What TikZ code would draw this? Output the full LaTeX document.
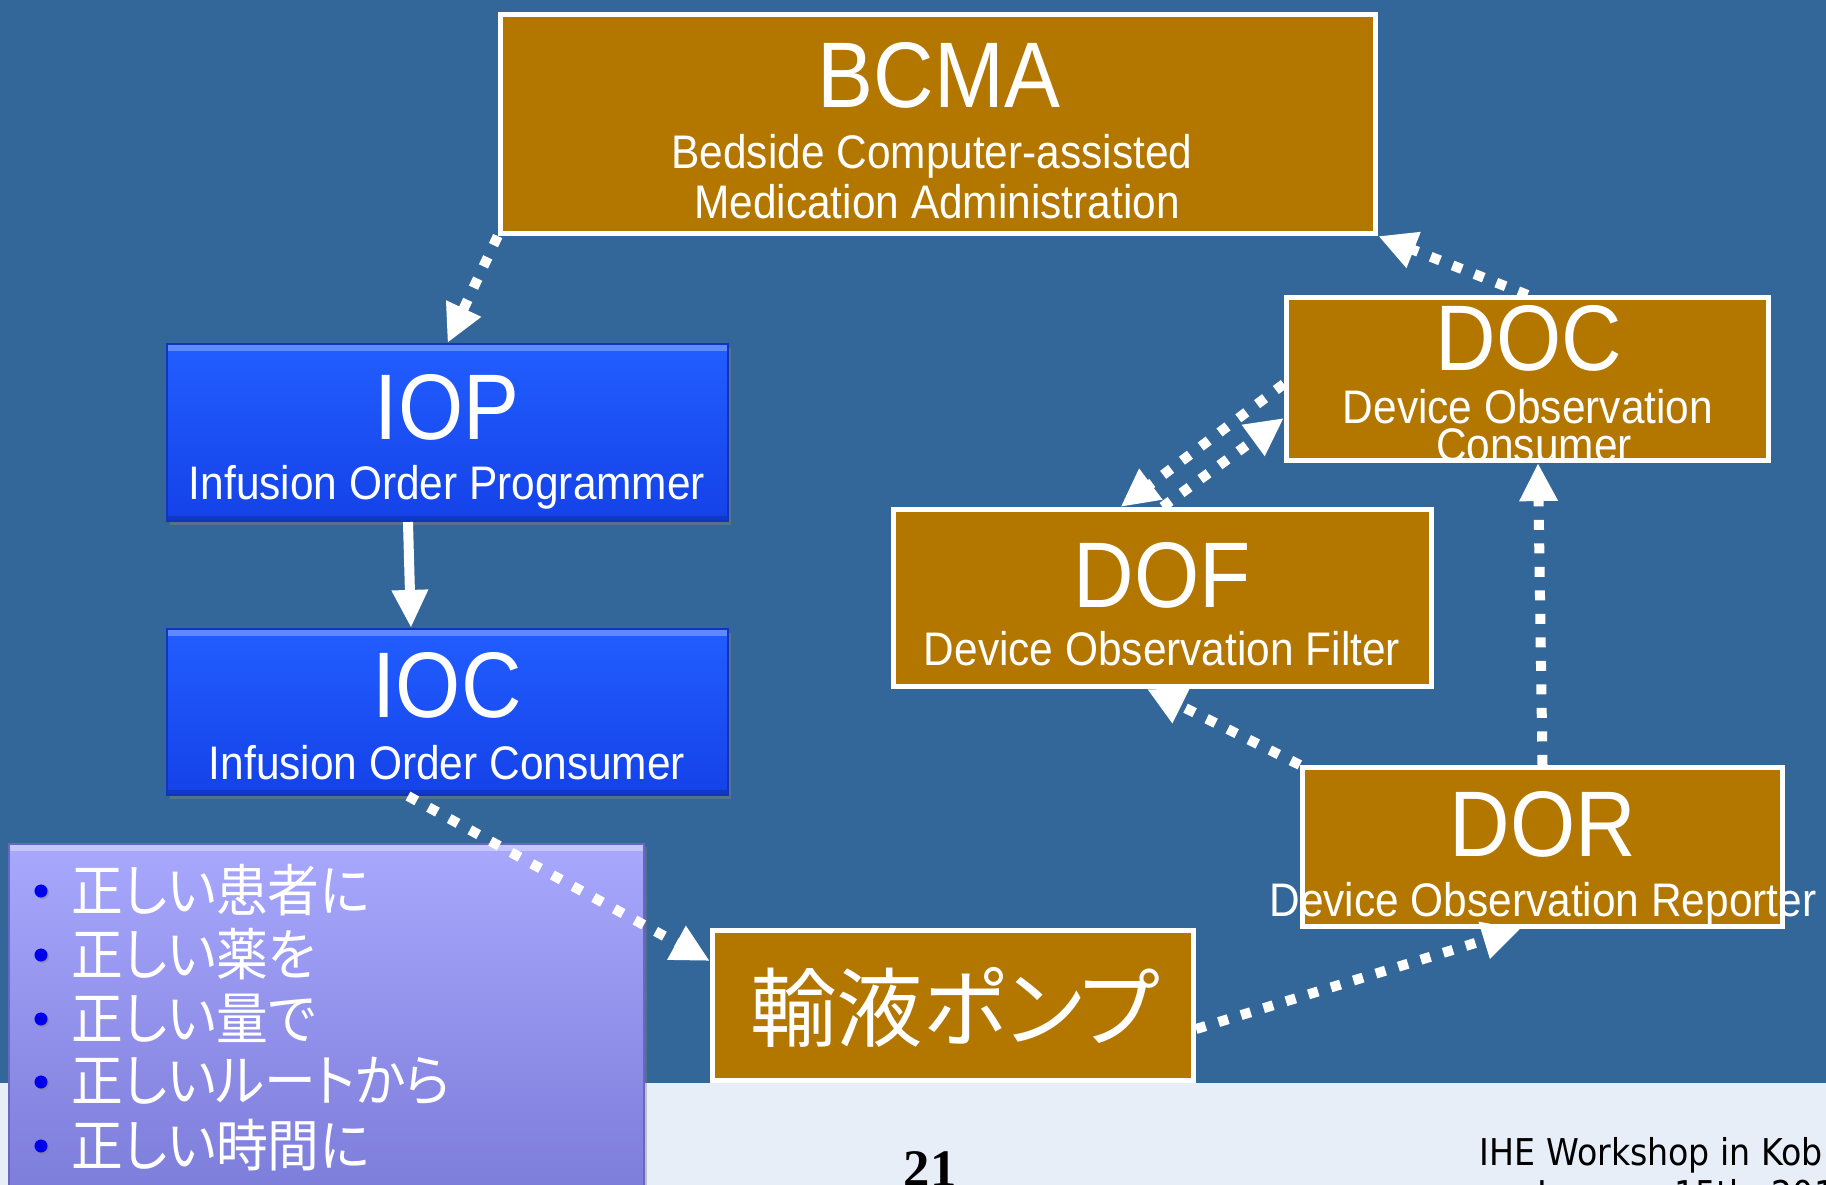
\documentclass[tikz,border=0pt]{standalone}
\usepackage{fontspec}
\setmainfont{Liberation Sans}
\newfontfamily\hvn[FakeStretch=0.9]{Liberation Sans}
\newfontfamily\jpfont[RawFeature=+palt]{Noto Sans CJK JP}
\newfontfamily\jplistfont[RawFeature=+palt,FakeStretch=0.92]{Noto Sans CJK JP}
\newfontfamily\serfont{Liberation Serif}
\newfontfamily\tahfont[FakeStretch=0.9]{DejaVu Sans}
\usetikzlibrary{arrows.meta,shadows,calc}
\definecolor{bgblue}{RGB}{52,103,153}
\definecolor{bglight}{RGB}{232,238,248}
\definecolor{boxbrown}{RGB}{179,119,0}
\definecolor{ioT}{RGB}{34,94,255}
\definecolor{ioB}{RGB}{20,66,232}
\definecolor{ioEdge}{RGB}{16,52,190}
\definecolor{purpT}{RGB}{168,168,253}
\definecolor{purpB}{RGB}{124,124,218}
\definecolor{purpEdge}{RGB}{104,104,196}
\definecolor{bulletblue}{RGB}{0,0,235}
\begin{document}
\begin{tikzpicture}[x=0.01cm,y=-0.01cm,
  brownbox/.style={rectangle, draw=white, line width=0.05cm, fill=boxbrown, inner sep=0},
  bluebox/.style={rectangle, inner sep=0, top color=ioT, bottom color=ioB, draw=ioEdge, line width=0.02cm,
    drop shadow={shadow xshift=0.03cm, shadow yshift=-0.04cm, opacity=0.45},
    path picture={
      \fill[white,opacity=0.28] (path picture bounding box.north west) rectangle ([yshift=-0.07cm]path picture bounding box.north east);
      \fill[black,opacity=0.15] (path picture bounding box.south west) rectangle ([yshift=0.05cm]path picture bounding box.south east);}},
  purplebox/.style={rectangle, inner sep=0, top color=purpT, bottom color=purpB, draw=purpEdge, line width=0.02cm,
    drop shadow={shadow xshift=0.03cm, shadow yshift=-0.03cm, opacity=0.4},
    path picture={
      \fill[white,opacity=0.35] (path picture bounding box.north west) rectangle ([yshift=-0.07cm]path picture bounding box.north east);}},
  ttl/.style={text=white, font=\hvn\fontsize{26.5}{30}\selectfont, inner sep=0, anchor=base},
  sub/.style={text=white, font=\hvn\fontsize{13.4}{16}\selectfont, inner sep=0, anchor=base},
  jplist/.style={text=white, font=\jplistfont\fontsize{16}{19}\selectfont, inner sep=0, anchor=west},
  bulletdot/.style={circle, fill=bulletblue, inner sep=0, minimum size=0.13cm,
    drop shadow={shadow xshift=0.015cm, shadow yshift=-0.015cm, opacity=0.5}},
  foot/.style={text=black, font=\tahfont\fontsize{10.5}{12}\selectfont, inner sep=0, anchor=base west},
  flow/.style={draw=white, line width=0.1cm, dash pattern=on 0.1cm off 0.135cm,
    -{Triangle[length=0.38cm,width=0.36cm]}},
  solidflow/.style={draw=white, line width=0.1cm, -{Triangle[length=0.38cm,width=0.34cm]}},
]
\useasboundingbox (0,0) rectangle (1826,1185);
\clip (0,0) rectangle (1826,1185);
% background
\fill[bgblue] (0,0) rectangle (1826,1083);
\fill[bglight] (0,1083) rectangle (1826,1185);

% boxes
\node[brownbox, minimum width=8.75cm, minimum height=2.19cm] (bcma) at (938,124) {};
\node[bluebox, minimum width=5.61cm, minimum height=1.77cm] (iop) at (447.5,432.5) {};
\node[bluebox, minimum width=5.61cm, minimum height=1.66cm] (ioc) at (447.5,712) {};
\node[brownbox, minimum width=4.82cm, minimum height=1.63cm] (doc) at (1527.5,379) {};
\node[brownbox, minimum width=5.38cm, minimum height=1.77cm] (dof) at (1162.5,598) {};
\node[brownbox, minimum width=4.80cm, minimum height=1.59cm] (dor) at (1542.5,847) {};
\node[brownbox, minimum width=4.81cm, minimum height=1.50cm] (pump) at (953,1005.5) {};
\node[purplebox, minimum width=6.35cm, minimum height=3.51cm] (list) at (326.5,1019.5) {};

% connectors
\draw[flow] (bcma.south west) -- (iop.north);
\draw[solidflow] ([xshift=-0.395cm]iop.south) -- ([xshift=-0.365cm]ioc.north);
\draw[flow] ([xshift=-0.395cm]ioc.south) -- ([yshift=-0.33cm]pump.north west);
\draw[flow] ([yshift=-1.01cm]pump.north east) -- ([xshift=-0.22cm]dor.south);
\draw[flow] (dor.north west) -- ([xshift=-0.155cm]dof.south);
\draw[flow] ([yshift=-0.05cm]doc.west) -- ([xshift=-0.42cm]dof.north);
\draw[flow] (dof.north) -- ([yshift=-0.39cm]doc.west);
\draw[flow] (dor.north) -- ([xshift=0.105cm]doc.south);
\draw[flow] (doc.north) -- (bcma.south east);

% texts
\node[ttl] (bcmaT) at (939,108) {BCMA};
\node[sub] (bcmaS1) at (932,169) {Bedside Computer-assisted};
\node[sub] (bcmaS2) at (937,219) {Medication Administration};
\node[ttl] (iopT) at (447,440) {IOP};
\node[sub] (iopS) at (447,500) {Infusion Order Programmer};
\node[ttl] (iocT) at (447,718) {IOC};
\node[sub] (iocS) at (447,779) {Infusion Order Consumer};
\node[ttl] (docT) at (1529,370) {DOC};
\node[sub] (docS1) at (1528,424) {Device Observation};
\node[sub] (docS2) at (1534,462) {Consumer};
\node[ttl] (dofT) at (1162,607) {DOF};
\node[sub] (dofS) at (1162,666) {Device Observation Filter};
\node[ttl] (dorT) at (1543,856) {DOR};
\node[sub] (dorS) at (1543,916) {Device Observation Reporter};
\node[text=white, font=\jpfont\fontsize{24.5}{28}\selectfont, inner sep=0] (pumpT) at (955,1007) {輸液ポンプ};

% list
\node[bulletdot] (b1) at (41,891) {};
\node[bulletdot] (b2) at (41,955) {};
\node[bulletdot] (b3) at (41,1019) {};
\node[bulletdot] (b4) at (41,1082) {};
\node[bulletdot] (b5) at (41,1146) {};
\node[jplist] (l1) at (71,890) {正しい患者に};
\node[jplist] (l2) at (71,954) {正しい薬を};
\node[jplist] (l3) at (71,1018) {正しい量で};
\node[jplist] (l4) at (71,1081) {正しいルートから};
\node[jplist] (l5) at (71,1145) {正しい時間に};

% footer
\node[text=black, font=\serfont\bfseries\fontsize{15}{18}\selectfont, inner sep=0, anchor=base] (pagenum) at (930,1186) {21};
\node[foot] (ihe1) at (1479,1165) {IHE Workshop in Kob};
\node[foot] (ihe2) at (1537,1207) {January 15th, 201};
\end{tikzpicture}
\end{document}
